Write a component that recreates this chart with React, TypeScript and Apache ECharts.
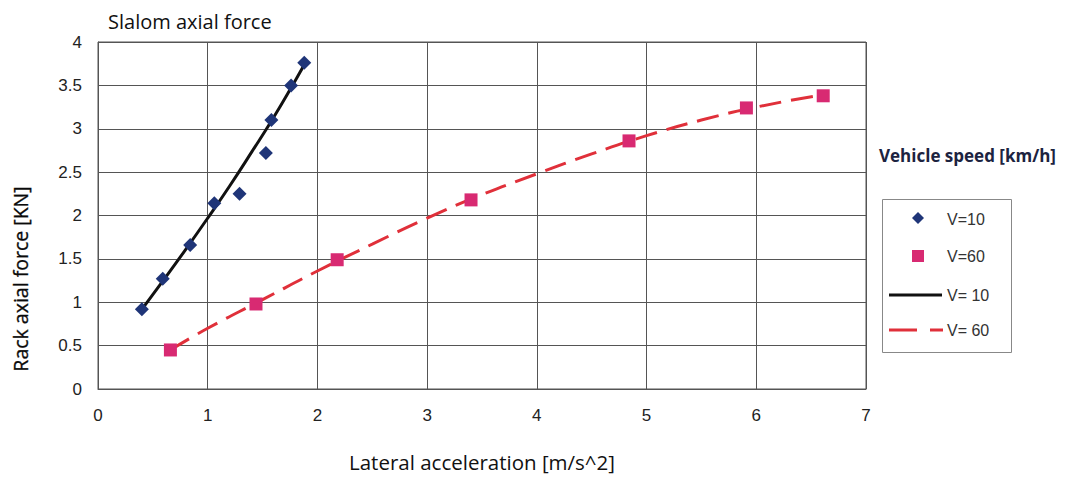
import React, { useEffect, useRef } from "react";
import * as echarts from "echarts";

const titleText = "Slalom axial force";
const xAxisName = "Lateral acceleration [m/s^2]";
const yAxisName = "Rack axial force [KN]";
const legendTitle = "Vehicle speed [km/h]";

// measured points
const v10Points: [number, number][] = [
  [0.4, 0.92], [0.59, 1.27], [0.84, 1.66], [1.06, 2.14], [1.29, 2.25],
  [1.53, 2.72], [1.58, 3.1], [1.76, 3.5], [1.88, 3.76],
];
const v60Points: [number, number][] = [
  [0.66, 0.45], [1.44, 0.98], [2.18, 1.49], [3.4, 2.18],
  [4.84, 2.86], [5.91, 3.24], [6.61, 3.38],
];
// trend lines
const v10Trend: [number, number][] = [
  [0.39, 0.9], [0.6, 1.26], [0.8, 1.61], [1.0, 1.97], [1.2, 2.34],
  [1.4, 2.73], [1.6, 3.13], [1.8, 3.56], [1.89, 3.76],
];
const v60Trend: [number, number][] = [
  [0.66, 0.45], [1.0, 0.7], [1.5, 1.03], [2.0, 1.36], [2.5, 1.67],
  [3.0, 1.97], [3.5, 2.24], [4.0, 2.48], [4.5, 2.71], [5.0, 2.92],
  [5.5, 3.1], [6.0, 3.25], [6.6, 3.39],
];
const legendNames = ["V=10", "V=60", "V= 10", "V= 60"];

const BLUE = "#1f3578";
const PINK = "#d82a72";
const RED = "#e0303a";
const TICK_FONT = "'Liberation Sans Narrow', 'Liberation Sans', Arial, sans-serif";

export default function App() {
  const ref = useRef<HTMLDivElement>(null);
  useEffect(() => {
    if (!ref.current) return;
    const chart = echarts.init(ref.current, null, { renderer: "svg" });
    const legendText = (name: string, y: number) => ({
      type: "text", x: 947, y,
      style: {
        text: name, fontFamily: TICK_FONT, fontSize: 16, fill: "#333",
        textAlign: "left", textVerticalAlign: "middle",
      },
    });
    chart.setOption({
      animation: false,
      backgroundColor: "#ffffff",
      title: {
        text: titleText,
        left: 103,
        top: 6,
        textStyle: { fontFamily: "Open Sans", fontSize: 20, fontWeight: "normal", color: "#111" },
      },
      grid: {
        left: 98, top: 42, right: 209, bottom: 85,
        show: true, borderColor: "#555", borderWidth: 1,
      },
      xAxis: {
        type: "value", min: 0, max: 7, interval: 1,
        name: xAxisName, nameLocation: "middle", nameGap: 62,
        nameTextStyle: { fontFamily: "Open Sans", fontSize: 20.5, color: "#111" },
        axisLine: { show: true, lineStyle: { color: "#555" } },
        axisTick: { show: false },
        axisLabel: { fontFamily: TICK_FONT, fontSize: 17, color: "#222", margin: 18 },
        splitLine: { show: true, lineStyle: { color: "#555", width: 1 } },
      },
      yAxis: {
        type: "value", min: 0, max: 4, interval: 0.5,
        axisLine: { show: true, lineStyle: { color: "#555" } },
        axisTick: { show: false },
        axisLabel: { fontFamily: TICK_FONT, fontSize: 17, color: "#222", margin: 16 },
        splitLine: { show: true, lineStyle: { color: "#555", width: 1 } },
      },
      graphic: [
        {
          type: "text", x: 20, y: 279, rotation: Math.PI / 2,
          style: {
            text: yAxisName, fontFamily: "Open Sans", fontSize: 19.5, fill: "#0a0a0a",
            stroke: "#0a0a0a", lineWidth: 0.3,
            textAlign: "center", textVerticalAlign: "middle",
          },
        },
        {
          type: "text", x: 879, y: 155,
          style: {
            text: legendTitle, fontFamily: "Open Sans", fontSize: 17, fontWeight: "bold", fill: "#1c2340",
            textAlign: "left", textVerticalAlign: "middle",
          },
        },
        {
          type: "rect", shape: { x: 882.5, y: 199.5, width: 129, height: 153 },
          style: { fill: "#fff", stroke: "#888", lineWidth: 1 },
        },
        {
          type: "polygon",
          shape: { points: [[918, 212], [924, 218], [918, 224], [912, 218]] },
          style: { fill: BLUE },
        },
        legendText(legendNames[0], 219),
        {
          type: "rect", shape: { x: 912, y: 250, width: 12, height: 12 },
          style: { fill: PINK },
        },
        legendText(legendNames[1], 256),
        {
          type: "line", shape: { x1: 889, y1: 295, x2: 942, y2: 295 },
          style: { stroke: "#111", lineWidth: 3 },
        },
        legendText(legendNames[2], 295),
        {
          type: "line", shape: { x1: 889, y1: 330, x2: 943, y2: 330 },
          style: { stroke: RED, lineWidth: 3, lineDash: [28, 13] },
        },
        legendText(legendNames[3], 330),
      ],
      series: [
        {
          name: legendNames[2], type: "line", data: v10Trend, smooth: true,
          showSymbol: false, symbol: "none", z: 2,
          lineStyle: { color: "#111", width: 3 },
          itemStyle: { color: "#111" },
        },
        {
          name: legendNames[3], type: "line", data: v60Trend, smooth: true,
          showSymbol: false, symbol: "none", z: 2,
          lineStyle: { color: RED, width: 3, type: [22, 10] },
          itemStyle: { color: RED },
        },
        {
          name: legendNames[0], type: "scatter", data: v10Points,
          symbol: "diamond", symbolSize: 14, z: 5,
          itemStyle: { color: BLUE, opacity: 1 },
        },
        {
          name: legendNames[1], type: "scatter", data: v60Points,
          symbol: "rect", symbolSize: 13, z: 5,
          itemStyle: { color: PINK, opacity: 1 },
        },
      ],
    });
    return () => chart.dispose();
  }, []);
  return <div ref={ref} style={{ width: 1075, height: 477, position: "absolute", left: 0, top: 0 }} />;
}
